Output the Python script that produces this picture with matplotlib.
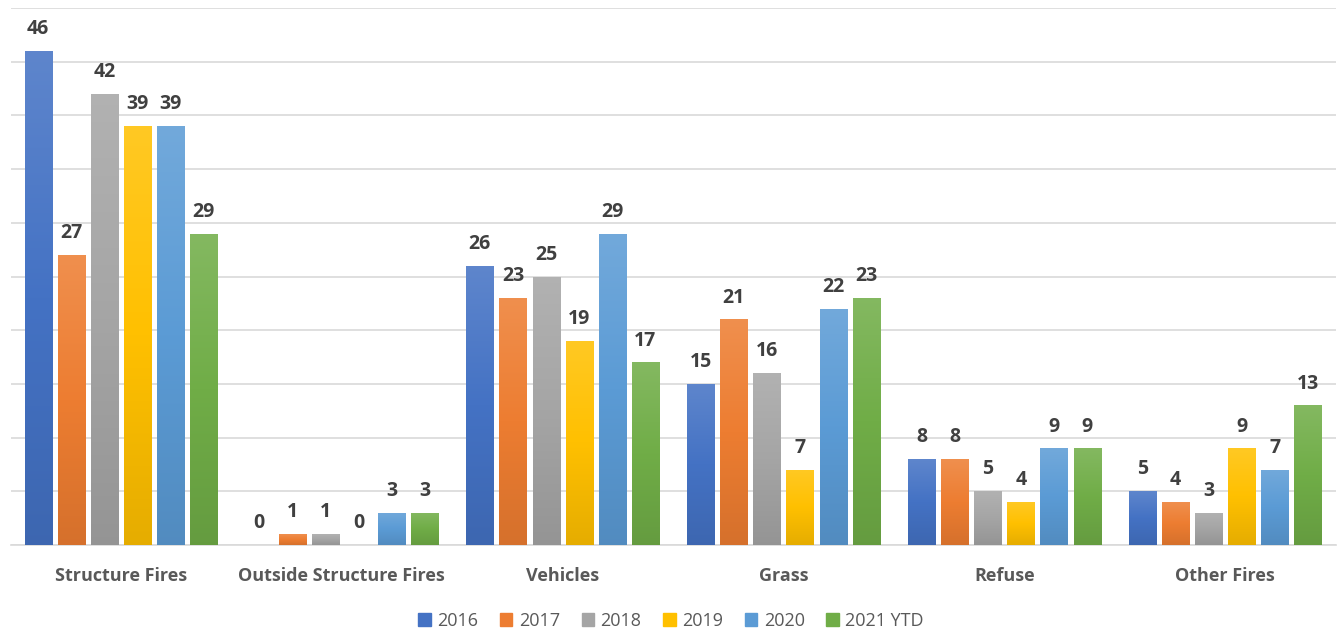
import matplotlib
matplotlib.use("Agg")
import matplotlib.pyplot as plt
import numpy as np
from matplotlib.colors import to_rgb, LinearSegmentedColormap

categories = ["Structure Fires", "Outside Structure Fires", "Vehicles", "Grass", "Refuse", "Other Fires"]
series_names = ["2016", "2017", "2018", "2019", "2020", "2021 YTD"]
v2016 = [46, 0, 26, 15, 8, 5]
v2017 = [27, 1, 23, 21, 8, 4]
v2018 = [42, 1, 25, 16, 5, 3]
v2019 = [39, 0, 19, 7, 4, 9]
v2020 = [39, 3, 29, 22, 9, 7]
v2021 = [29, 3, 17, 23, 9, 13]
series_values = [v2016, v2017, v2018, v2019, v2020, v2021]
colors = ["#4472C4", "#ED7D31", "#A5A5A5", "#FFC000", "#5B9BD5", "#70AD47"]

plt.rcParams['font.family'] = ['Open Sans', 'DejaVu Sans']

fig = plt.figure(figsize=(13.42, 6.30), dpi=100)
ax = fig.add_axes([10.6/1342, 85/630, 1325/1342, 537/630])

pitch = 0.15
width = 0.123
x = np.arange(len(categories))
n = len(series_names)

def grad_cmap(c):
    r = np.array(to_rgb(c))
    top = r + (1 - r) * 0.14
    bot = r * 0.90
    return LinearSegmentedColormap.from_list("g", [bot, r, top])

for i, (name, vals, col) in enumerate(zip(series_names, series_values, colors)):
    offs = (i - (n - 1) / 2) * pitch
    bars = ax.bar(x + offs, vals, width, color=col, label=name, zorder=3, linewidth=0)
    cm = grad_cmap(col)
    for b, v in zip(bars, vals):
        if v > 0:
            x0 = b.get_x()
            g = np.linspace(0, 1, 256).reshape(-1, 1)
            im = ax.imshow(g, cmap=cm, aspect='auto', origin='lower',
                           extent=[x0, x0 + b.get_width(), 0, v], zorder=3.5,
                           interpolation='bilinear')
            im.set_clip_path(b)
        ax.annotate(str(v), (b.get_x() + b.get_width() / 2, v), xytext=(0, 8.5),
                    textcoords='offset points', ha='center', va='bottom',
                    fontsize=14, fontweight='bold', color='#404040', zorder=5)

ax.set_xlim(-0.5, len(categories) - 0.5)
ax.set_ylim(0, 50)
ax.set_yticks(np.arange(0, 51, 5))
ax.set_yticklabels([])
ax.tick_params(axis='y', length=0)
ax.yaxis.grid(True, color='#D9D9D9', linewidth=1.2, zorder=0)
ax.set_axisbelow(True)
ax.set_xticks(x)
ax.set_xticklabels(categories, fontsize=13, fontweight='bold', color='#595959')
ax.tick_params(axis='x', length=0, pad=15.5)
for s in ['top', 'right', 'left']:
    ax.spines[s].set_visible(False)
ax.spines['bottom'].set_color('#D9D9D9')
ax.spines['bottom'].set_linewidth(1.2)

handles = [plt.Rectangle((0, 0), 1, 1, color=c) for c in colors]
fig.legend(handles, series_names, loc='center', bbox_to_anchor=(0.5, 9/630),
           ncol=6, frameon=False, fontsize=13, labelcolor='#595959',
           handlelength=0.7, handleheight=0.7, handletextpad=0.35, columnspacing=1.2)

fig.savefig("out.png", dpi=100)
